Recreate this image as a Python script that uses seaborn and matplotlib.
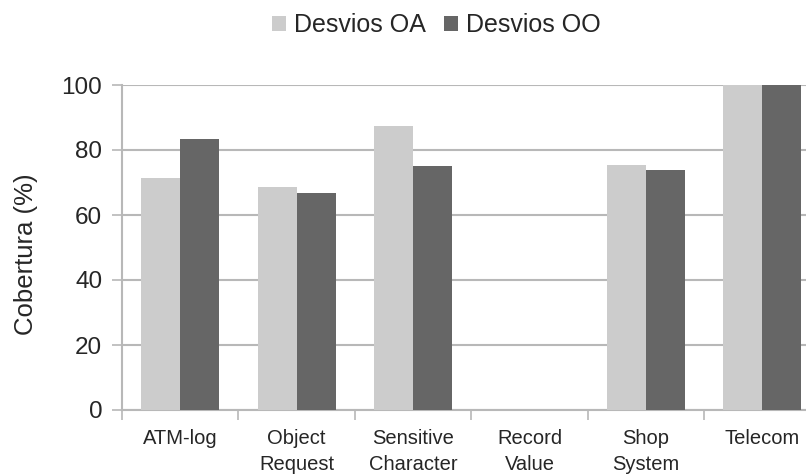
import matplotlib
matplotlib.use("Agg")
import matplotlib.pyplot as plt
from matplotlib.patches import Patch
import seaborn as sns
import pandas as pd

categories = ["ATM-log", "Object\nRequest", "Sensitive\nCharacter", "Record\nValue",
              "Shop\nSystem", "Telecom"]
desvios_oa = [71.5, 68.7, 87.4, 0.0, 75.4, 100.0]
desvios_oo = [83.4, 66.7, 75.0, 0.0, 73.8, 100.0]
series_names = ["Desvios OA", "Desvios OO"]
y_ticks = [0, 20, 40, 60, 80, 100]

colors = {"Desvios OA": "#cccccc", "Desvios OO": "#666666"}
grid_color = "#b8b8b8"

df = pd.DataFrame({
    "categoria": categories * 2,
    "serie": [series_names[0]] * len(categories) + [series_names[1]] * len(categories),
    "cobertura": desvios_oa + desvios_oo,
})

sns.set_style("white")
plt.rcParams["font.family"] = ["Liberation Sans", "DejaVu Sans"]

W, H = 806, 474
fig = plt.figure(figsize=(W / 100, H / 100), dpi=100)
ax = fig.add_axes([122 / W, (H - 410) / H, (820.5 - 122) / W, 325 / H])

sns.barplot(data=df, x="categoria", y="cobertura", hue="serie", order=categories,
            hue_order=series_names, palette=colors, width=0.67, gap=0,
            linewidth=0, saturation=1, legend=False, ax=ax, zorder=3)

ax.set_xlim(-0.5, len(categories) - 0.5)
ax.set_ylim(0, 100)
ax.set_yticks(y_ticks)
ax.set_yticklabels([str(t) for t in y_ticks])
ax.yaxis.grid(True, color=grid_color, linewidth=1.5, zorder=0)
ax.set_axisbelow(True)

# category labels centred on each group, tick marks on group boundaries
ax.set_xticks(range(len(categories)))
ax.set_xticklabels(categories, fontsize=14.5, linespacing=1.45)
ax.tick_params(axis="x", which="major", length=0, pad=14)
ax.set_xticks([i - 0.5 for i in range(len(categories) + 1)], minor=True)
ax.tick_params(axis="x", which="minor", length=7.2, width=1.2, color=grid_color,
               direction="out", bottom=True)
ax.tick_params(axis="y", which="major", length=7.2, width=1.2, color=grid_color,
               direction="out", left=True, labelsize=17.5, pad=7)

for side in ("top", "right"):
    ax.spines[side].set_visible(False)
for side in ("left", "bottom"):
    ax.spines[side].set_color(grid_color)
    ax.spines[side].set_linewidth(1.5)

ax.set_xlabel("")
ax.set_ylabel("")
fig.text(26 / W, 1 - 254 / H, "Cobertura (%)", rotation=90, fontsize=18.5,
         ha="center", va="center")

handles = [Patch(facecolor=colors[s], edgecolor="none") for s in series_names]
fig.legend(handles, series_names, loc="center", bbox_to_anchor=(436.5 / W, 1 - 25 / H),
           ncol=2, frameon=False, fontsize=18, handlelength=0.56, handleheight=0.56,
           handletextpad=0.32, columnspacing=0.72, borderpad=0, borderaxespad=0)

fig.savefig("out.png", dpi=100)
